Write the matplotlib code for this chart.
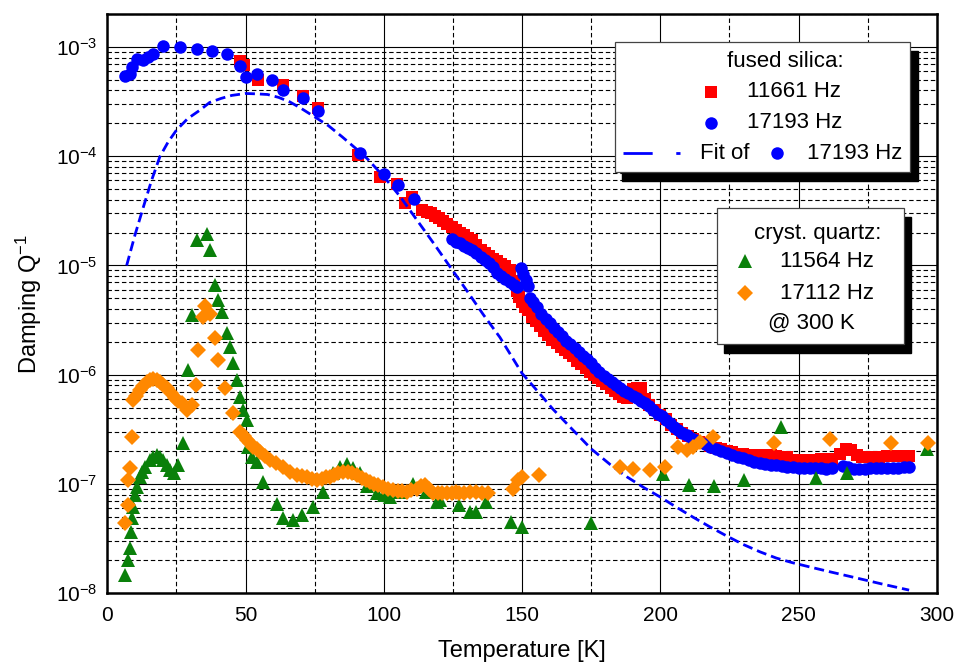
import numpy as np
import matplotlib
matplotlib.use('Agg')
import matplotlib.pyplot as plt
from matplotlib.ticker import LogLocator, NullFormatter
from matplotlib.patches import Rectangle

plt.rcParams['font.family'] = ['Liberation Sans', 'DejaVu Sans']
plt.rcParams['mathtext.fontset'] = 'custom'
plt.rcParams['mathtext.rm'] = 'Liberation Sans'
plt.rcParams['mathtext.default'] = 'regular'

# ------------------------------------------------------------------
# data (T in K, damping Q^-1)
# ------------------------------------------------------------------
# fused silica, 11661 Hz (red squares)
red_T = [48.0, 49.5, 54.5, 63.5, 70.8, 76.3, 90.8, 98.6, 104.9, 107.7, 110.1,
         114.0, 115.5, 117.0, 118.5, 120.0, 121.5, 123.0, 124.5, 126.0, 127.5,
         129.0, 130.5, 132.0, 133.5, 135.0, 136.5, 138.0, 139.5, 141.0, 142.5,
         144.0, 145.5, 147.0, 148.0, 149.0, 150.0, 151.0, 152.0, 153.5, 155.0,
         156.5, 158.0, 159.5, 161.0, 162.5, 164.0, 165.5, 167.0, 168.5, 170.0,
         171.5, 173.0, 174.5, 176.0, 177.5, 179.0, 180.5, 182.0, 183.5, 185.0,
         186.5, 188.0, 190.0, 191.5, 193.0, 194.5, 196.0, 198.0, 200.0, 202.0,
         204.0, 206.0, 208.0, 210.0, 212.0, 214.0, 216.0, 218.0, 220.0, 222.0,
         224.0, 226.0, 228.0, 230.0, 232.0, 234.0, 236.0, 238.0, 240.0, 242.0,
         244.0, 246.0, 250.0, 254.0, 258.0, 262.0, 265.0, 267.0, 269.0, 271.0,
         273.0, 276.0, 279.0, 282.0, 285.0, 288.0, 290.0]
red_Q = [7.4e-4, 6.9e-4, 5.0e-4, 4.45e-4, 3.55e-4, 2.75e-4, 1.02e-4, 6.5e-5, 5.6e-5, 3.7e-5, 4.25e-5,
         3.2e-5, 3.1e-5, 3.0e-5, 2.85e-5, 2.7e-5, 2.55e-5, 2.4e-5, 2.25e-5, 2.1e-5, 2.0e-5,
         1.9e-5, 1.8e-5, 1.7e-5, 1.55e-5, 1.4e-5, 1.3e-5, 1.22e-5, 1.15e-5, 1.1e-5, 1.03e-5,
         9.8e-6, 9.0e-6, 7.2e-6, 5.8e-6, 5.2e-6, 4.6e-6, 4.2e-6, 3.9e-6, 3.4e-6, 3.1e-6,
         2.8e-6, 2.5e-6, 2.3e-6, 2.1e-6, 1.95e-6, 1.8e-6, 1.68e-6, 1.58e-6, 1.48e-6, 1.35e-6,
         1.25e-6, 1.15e-6, 1.07e-6, 1.0e-6, 9.4e-7, 8.8e-7, 8.2e-7, 7.6e-7, 7.1e-7, 6.6e-7,
         6.3e-7, 6.1e-7, 7.4e-7, 7.6e-7, 7.5e-7, 6.0e-7, 5.3e-7, 4.8e-7, 4.3e-7, 3.9e-7,
         3.5e-7, 3.2e-7, 2.95e-7, 2.75e-7, 2.6e-7, 2.45e-7, 2.35e-7, 2.25e-7, 2.15e-7, 2.08e-7,
         2.0e-7, 1.95e-7, 1.9e-7, 1.88e-7, 1.85e-7, 1.85e-7, 1.85e-7, 1.85e-7, 1.85e-7, 1.8e-7,
         1.68e-7, 1.75e-7, 1.65e-7, 1.65e-7, 1.68e-7, 1.7e-7, 1.9e-7, 2.1e-7, 2.05e-7, 1.85e-7,
         1.75e-7, 1.75e-7, 1.78e-7, 1.8e-7, 1.8e-7, 1.82e-7, 1.8e-7]

# fused silica, 17193 Hz (blue circles)
blue_T = [6.4, 8.2, 8.8, 10.6, 13.0, 14.8, 16.6, 20.3, 26.3, 32.3, 37.8, 43.2,
          48.0, 50.2, 54.0, 59.5, 63.7, 70.7, 76.3, 91.4, 99.9, 105.2, 110.8,
          124.6, 126.0, 127.5, 129.0, 130.5, 132.0, 133.5, 135.0, 136.5, 138.0,
          139.5, 141.0, 142.5, 144.0, 145.5, 147.0, 148.0, 149.5, 150.5, 151.5,
          152.3, 153.0, 154.0, 155.5, 157.0, 158.5, 160.0, 161.5, 163.0, 164.5,
          166.0, 167.5, 169.0, 170.5, 172.0, 173.5, 175.0, 176.5, 178.0, 179.5,
          181.0, 182.5, 184.0, 185.5, 187.0, 188.5, 190.0, 191.5, 193.0, 194.5,
          196.0, 197.5, 199.0, 200.5, 202.0, 203.5, 205.0, 206.5, 208.0, 209.5,
          211.0, 212.5, 214.0, 216.0, 218.0, 220.0, 222.0, 224.0, 226.0, 228.0,
          230.0, 232.0, 234.0, 236.0, 238.0, 240.0, 242.0, 244.0, 246.0, 248.0,
          250.0, 252.0, 254.0, 256.0, 258.0, 260.0, 262.0, 266.0, 268.0, 270.0,
          272.0, 274.0, 276.0, 278.0, 280.0, 282.0, 284.0, 286.0, 288.0, 290.0]
blue_Q = [5.4e-4, 5.7e-4, 6.6e-4, 7.7e-4, 7.55e-4, 8.1e-4, 8.7e-4, 1.01e-3, 9.9e-4, 9.65e-4, 9.2e-4, 8.7e-4,
          6.65e-4, 5.3e-4, 5.6e-4, 5.0e-4, 4.0e-4, 3.4e-4, 2.6e-4, 1.06e-4, 6.9e-5, 5.45e-5, 4.1e-5,
          1.75e-5, 1.65e-5, 1.6e-5, 1.52e-5, 1.45e-5, 1.38e-5, 1.3e-5, 1.2e-5, 1.12e-5, 1.05e-5,
          9.6e-6, 8.6e-6, 8.0e-6, 7.6e-6, 7.1e-6, 6.6e-6, 6.3e-6, 9.4e-6, 8.3e-6, 7.3e-6,
          6.5e-6, 5.0e-6, 4.6e-6, 4.2e-6, 3.6e-6, 3.25e-6, 2.95e-6, 2.7e-6, 2.45e-6, 2.25e-6,
          2.05e-6, 1.9e-6, 1.75e-6, 1.6e-6, 1.5e-6, 1.38e-6, 1.27e-6, 1.15e-6, 1.05e-6, 9.8e-7,
          9.1e-7, 8.5e-7, 8.0e-7, 7.5e-7, 7.1e-7, 6.8e-7, 6.4e-7, 6.1e-7, 5.8e-7, 5.5e-7,
          5.2e-7, 4.8e-7, 4.4e-7, 4.15e-7, 3.85e-7, 3.6e-7, 3.35e-7, 3.1e-7, 2.95e-7, 2.8e-7,
          2.65e-7, 2.55e-7, 2.45e-7, 2.32e-7, 2.2e-7, 2.1e-7, 2.0e-7, 1.92e-7, 1.85e-7, 1.78e-7,
          1.72e-7, 1.65e-7, 1.6e-7, 1.56e-7, 1.53e-7, 1.5e-7, 1.48e-7, 1.46e-7, 1.44e-7, 1.42e-7,
          1.41e-7, 1.4e-7, 1.4e-7, 1.39e-7, 1.39e-7, 1.38e-7, 1.4e-7, 1.45e-7, 1.42e-7, 1.38e-7,
          1.38e-7, 1.38e-7, 1.39e-7, 1.39e-7, 1.4e-7, 1.4e-7, 1.4e-7, 1.4e-7, 1.42e-7, 1.42e-7]

# fit of the 17193 Hz data (blue dashed line)
fit_T = [7, 10, 13, 16, 19, 22, 25, 29, 33.5, 37, 41, 45, 50, 54, 58, 62, 66,
         70, 75, 80, 85, 90, 94, 100, 106, 112, 118, 124, 130, 136, 142, 150,
         156, 161, 168, 175, 182, 188, 194, 200, 206, 212, 218, 224, 230, 236,
         242, 248, 255, 262, 270, 280, 290]
fit_Q = [1.0e-5, 1.9e-5, 3.4e-5, 6.0e-5, 9.9e-5, 1.35e-4, 1.73e-4, 2.2e-4, 2.64e-4, 3.1e-4,
         3.37e-4, 3.6e-4, 3.75e-4, 3.72e-4, 3.67e-4, 3.45e-4, 3.14e-4, 2.75e-4, 2.29e-4,
         1.9e-4, 1.5e-4, 1.17e-4, 9.5e-5, 6.5e-5, 4.25e-5, 2.6e-5, 1.6e-5, 9.7e-6, 5.9e-6,
         3.55e-6, 2.2e-6, 1.03e-6, 6.9e-7, 4.9e-7, 3.2e-7, 2.1e-7, 1.5e-7, 1.16e-7, 9.3e-8,
         7.6e-8, 6.1e-8, 4.95e-8, 4.05e-8, 3.35e-8, 2.8e-8, 2.4e-8, 2.1e-8, 1.9e-8, 1.72e-8,
         1.56e-8, 1.4e-8, 1.22e-8, 1.07e-8]

# crystalline quartz, 11564 Hz (green triangles)
green_T = [6.5, 7.6, 8.2, 8.5, 9.1, 9.4, 10.0, 10.6, 11.8, 12.7, 13.6, 15.4, 16.5,
           17.9, 19.2, 20.3, 21.5, 22.7, 24.0, 25.7, 27.5, 29.3, 30.5, 32.3, 36.2,
           37.1, 39.0, 40.1, 41.4, 43.2, 44.4, 45.6, 46.8, 48.0, 49.2, 50.4, 51.0,
           52.2, 54.0, 56.4, 61.3, 63.7, 67.3, 70.4, 74.3, 78.1, 81.7, 84.2, 86.6,
           89.0, 91.4, 93.8, 97.4, 100.0, 102.2, 106.0, 110.6, 115.1, 119.1, 120.4,
           127.2, 131.0, 133.2, 137.0, 146.1, 149.9, 175.0, 201.1, 210.4, 219.5,
           230.4, 243.5, 256.2, 267.6, 296.4]
green_Q = [1.47e-8, 2.0e-8, 2.6e-8, 3.65e-8, 4.85e-8, 6.2e-8, 7.9e-8, 9.4e-8, 1.16e-7, 1.3e-7,
           1.44e-7, 1.65e-7, 1.75e-7, 1.84e-7, 1.75e-7, 1.65e-7, 1.5e-7, 1.34e-7, 1.25e-7,
           1.49e-7, 2.35e-7, 1.1e-6, 3.5e-6, 1.7e-5, 1.96e-5, 1.38e-5, 6.6e-6, 4.8e-6, 3.76e-6,
           2.4e-6, 1.8e-6, 1.27e-6, 8.9e-7, 6.2e-7, 4.74e-7, 3.84e-7, 2.2e-7, 1.77e-7, 1.6e-7,
           1.05e-7, 6.6e-8, 4.84e-8, 4.67e-8, 5.2e-8, 6.2e-8, 8.5e-8, 1.25e-7, 1.44e-7, 1.54e-7,
           1.4e-7, 1.25e-7, 9.5e-8, 8.2e-8, 8.0e-8, 7.6e-8, 8.5e-8, 1.0e-7, 8.5e-8, 6.9e-8, 7.1e-8,
           6.4e-8, 5.5e-8, 5.6e-8, 6.9e-8, 4.5e-8, 4.06e-8, 4.4e-8, 1.23e-7, 9.8e-8, 9.5e-8,
           1.1e-7, 3.33e-7, 1.14e-7, 1.25e-7, 2.1e-7]

# crystalline quartz, 17112 Hz (orange diamonds)
orange_T = [6.4, 7.6, 7.6, 8.2, 9.0, 9.4, 10.5, 11.8, 13.0, 14.2, 15.4, 16.6, 17.8,
            19.1, 20.3, 21.5, 23.0, 24.5, 25.7, 26.9, 28.7, 30.5, 32.0, 32.9, 34.5,
            35.3, 37.0, 39.0, 40.1, 42.6, 45.4, 48.0, 49.5, 50.4, 51.6, 52.8, 54.0,
            55.2, 57.0, 58.8, 61.0, 63.7, 66.0, 68.5, 70.3, 72.1, 74.0, 75.7, 77.5,
            79.0, 80.5, 82.0, 83.5, 85.4, 87.0, 88.5, 90.2, 92.0, 93.5, 95.0, 96.5,
            98.0, 99.8, 101.5, 103.4, 105.0, 106.7, 108.3, 110.0, 111.9, 113.4, 114.9,
            116.4, 117.9, 119.6, 121.0, 122.7, 124.5, 126.0, 127.2, 129.0, 131.0,
            133.2, 135.5, 137.8, 146.9, 148.4, 149.9, 156.0, 185.4, 190.2, 196.3,
            201.7, 206.5, 209.5, 212.0, 214.4, 219.2, 241.2, 261.4, 283.4, 296.7]
orange_Q = [4.37e-8, 6.4e-8, 1.09e-7, 1.39e-7, 2.7e-7, 5.86e-7, 6.4e-7, 7.2e-7, 7.9e-7, 8.6e-7,
            9.0e-7, 9.2e-7, 9.0e-7, 8.6e-7, 8.0e-7, 7.5e-7, 6.8e-7, 6.07e-7, 5.7e-7, 5.46e-7,
            4.74e-7, 5.27e-7, 8.0e-7, 1.68e-6, 3.4e-6, 4.3e-6, 3.6e-6, 2.15e-6, 1.36e-6, 7.5e-7,
            4.43e-7, 3.0e-7, 2.75e-7, 2.52e-7, 2.35e-7, 2.19e-7, 2.08e-7, 1.97e-7, 1.8e-7,
            1.66e-7, 1.55e-7, 1.44e-7, 1.3e-7, 1.2e-7, 1.18e-7, 1.16e-7, 1.12e-7, 1.09e-7,
            1.12e-7, 1.15e-7, 1.16e-7, 1.2e-7, 1.25e-7, 1.29e-7, 1.28e-7, 1.25e-7, 1.2e-7,
            1.13e-7, 1.08e-7, 1.05e-7, 1.0e-7, 9.7e-8, 9.4e-8, 9.1e-8, 8.8e-8, 8.7e-8, 8.6e-8,
            8.5e-8, 8.8e-8, 9.1e-8, 9.5e-8, 9.8e-8, 9.0e-8, 8.2e-8, 8.2e-8, 8.3e-8, 8.2e-8,
            8.3e-8, 8.4e-8, 8.2e-8, 8.3e-8, 8.4e-8, 8.5e-8, 8.3e-8, 8.2e-8, 9.0e-8, 1.09e-7,
            1.16e-7, 1.22e-7, 1.42e-7, 1.36e-7, 1.34e-7, 1.42e-7, 2.19e-7, 2.04e-7, 2.2e-7,
            2.43e-7, 2.7e-7, 2.38e-7, 2.56e-7, 2.35e-7, 2.35e-7]

x_ticks = [0, 50, 100, 150, 200, 250, 300]
y_exponents = [-8, -7, -6, -5, -4, -3]

RED = '#ff0000'
BLUE = '#0000ff'
GREEN = '#0a800a'
ORANGE = '#ff8800'

# ------------------------------------------------------------------
# figure
# ------------------------------------------------------------------
fig = plt.figure(figsize=(9.59, 6.65), dpi=100)
ax = fig.add_axes([0.1119, 0.1078, 0.8649, 0.8711])
ax.set_yscale('log')
ax.set_xlim(0, 300)
ax.set_ylim(1e-8, 2e-3)

ax.set_xticks(x_ticks)
ax.set_xticks(np.arange(25, 300, 50), minor=True)
ax.set_yticks([10.0 ** e for e in y_exponents])
ax.set_yticklabels(['10$^{%d}$' % e for e in y_exponents])
ax.yaxis.set_minor_locator(LogLocator(base=10, subs=range(2, 10), numticks=30))
ax.yaxis.set_minor_formatter(NullFormatter())

ax.set_axisbelow(True)
ax.grid(which='major', color='k', lw=0.8, ls='-')
ax.grid(which='minor', color='k', lw=0.8, ls=(0, (4, 2.5)))
ax.tick_params(which='both', length=0, labelsize=15)
ax.tick_params(axis='x', pad=9)
ax.tick_params(axis='y', pad=7)
for s in ax.spines.values():
    s.set_linewidth(1.8)

ms_kw = dict(ls='none', mew=0)
ax.plot(red_T, red_Q, marker='s', ms=8, color=RED, **ms_kw)
ax.plot(blue_T, blue_Q, marker='o', ms=9, color=BLUE, **ms_kw)
fit_line, = ax.plot(fit_T, fit_Q, color=BLUE, lw=2.0)
fit_line.set_dashes([3.6, 1.8])
ax.plot(green_T, green_Q, marker='^', ms=9.5, color=GREEN, **ms_kw)
ax.plot(orange_T, orange_Q, marker='D', ms=8.5, color=ORANGE, **ms_kw)

ax.set_xlabel('Temperature [K]', fontsize=17)
ax.set_ylabel('Damping Q$^{-1}$', fontsize=17)
ax.xaxis.set_label_coords(0.5, -0.08)
ax.yaxis.set_label_coords(-0.076, 0.5)

# ------------------------------------------------------------------
# legend boxes with black drop shadow (drawn by hand)
# ------------------------------------------------------------------
tr = ax.transAxes
def box(x0, y0, x1, y1):
    ax.add_patch(Rectangle((x0 + 0.009, y0 - 0.016), x1 - x0, y1 - y0, transform=tr,
                           facecolor='k', edgecolor='k', zorder=5, clip_on=False))
    ax.add_patch(Rectangle((x0, y0), x1 - x0, y1 - y0, transform=tr,
                           facecolor='white', edgecolor='#444444', lw=0.9, zorder=6,
                           clip_on=False))

lk = dict(transform=tr, zorder=7, clip_on=False)
tk = dict(transform=tr, zorder=7, fontsize=16, va='center')

box(0.612, 0.728, 0.968, 0.952)
ax.text(0.817, 0.918, 'fused silica:', ha='center', **tk)
ax.plot([0.728], [0.866], marker='s', ms=8, color=RED, ls='none', mew=0, **lk)
ax.text(0.771, 0.866, '11661 Hz', ha='left', **tk)
ax.plot([0.728], [0.812], marker='o', ms=9, color=BLUE, ls='none', mew=0, **lk)
ax.text(0.771, 0.812, '17193 Hz', ha='left', **tk)
leg_line, = ax.plot([0.622, 0.690], [0.7595, 0.7595], color=BLUE, lw=2.0, **lk)
leg_line.set_dashes([10.5, 8.5])
ax.text(0.7145, 0.7595, 'Fit of', ha='left', **tk)
ax.plot([0.807], [0.7595], marker='o', ms=9, color=BLUE, ls='none', mew=0, **lk)
ax.text(0.843, 0.7595, '17193 Hz', ha='left', **tk)

box(0.735, 0.430, 0.960, 0.665)
ax.text(0.857, 0.621, 'cryst. quartz:', ha='center', **tk)
ax.plot([0.769], [0.5736], marker='^', ms=9.5, color=GREEN, ls='none', mew=0, **lk)
ax.text(0.811, 0.5736, '11564 Hz', ha='left', **tk)
ax.plot([0.769], [0.518], marker='D', ms=8.5, color=ORANGE, ls='none', mew=0, **lk)
ax.text(0.811, 0.518, '17112 Hz', ha='left', **tk)
ax.text(0.849, 0.466, '@ 300 K', ha='center', **tk)

fig.savefig('out.png', dpi=100)
